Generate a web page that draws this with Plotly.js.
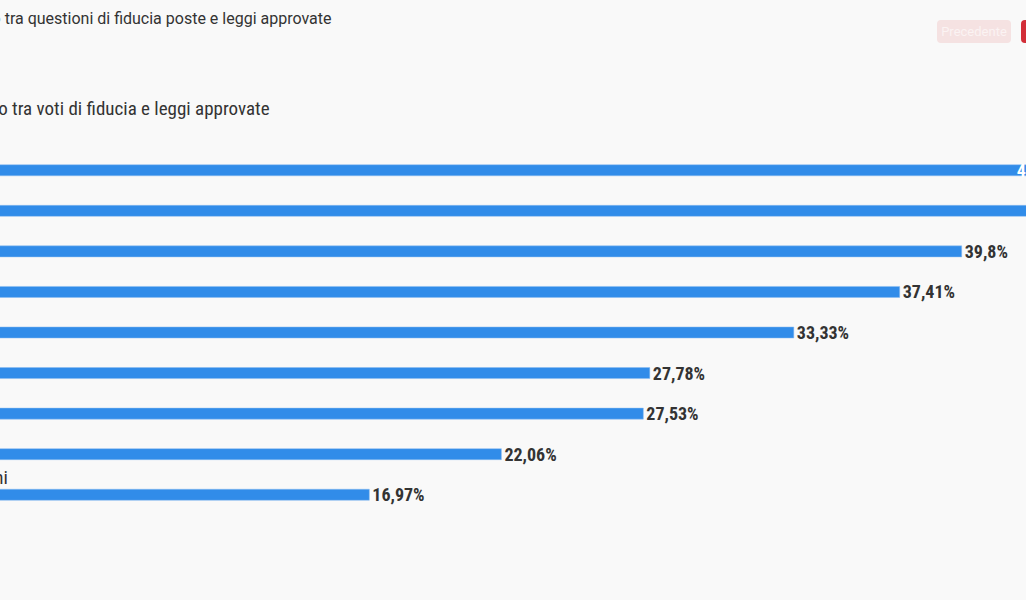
<!DOCTYPE html>
<html>
<head>
<meta charset="utf-8">
<script src="https://cdn.plot.ly/plotly-3.0.1.min.js"></script>
<style>
  html, body { margin: 0; padding: 0; background: #f9f9f9; overflow: hidden; width: 1026px; height: 600px; }
  #chart { position: absolute; left: -150px; top: 0; width: 1270px; height: 600px; z-index: 1; }
  #head { position: absolute; left: -65px; top: 9px; font-family: Roboto, sans-serif; font-size: 16px; color: #333; white-space: nowrap; z-index: 2; }
  .btn { position: absolute; top: 20px; height: 23px; border-radius: 4px; font-family: Roboto, sans-serif; font-size: 13px; line-height: 23px; text-align: center; color: #fff; z-index: 2; }
  #prev { left: 937px; width: 74px; background: #f5e2e2; color: #fbf3f3; }
  #next { left: 1021px; width: 80px; background: #d22e38; }
</style>
</head>
<body>
<div id="chart"></div>
<div id="head">Rapporto tra questioni di fiducia poste e leggi approvate</div>
<div class="btn" id="prev">Precedente</div>
<div class="btn" id="next">Successivo</div>
<script>
const chartTitle = "Rapporto tra voti di fiducia e leggi approvate";
const governi = ["Monti", "Draghi", "Conte II", "Renzi", "Conte I", "Letta", "Meloni", "Prodi II", "Gentiloni"];
const rapporto = [44.05, 42.86, 39.8, 37.41, 33.33, 27.78, 27.53, 22.06, 16.97];
const posizioneEtichetta = ["inside", "outside", "outside", "outside", "outside", "outside", "outside", "outside", "outside"];

const etichette = rapporto.map(v => String(v).replace('.', ',') + '%');
const condensed = "'Roboto Condensed', 'Liberation Sans Narrow', 'DejaVu Sans Condensed', Roboto, sans-serif";

const trace = {
  type: 'bar',
  orientation: 'h',
  y: governi,
  x: rapporto,
  text: etichette,
  textposition: posizioneEtichetta,
  insidetextanchor: 'end',
  constraintext: 'none',
  textfont: { family: condensed, size: 18, color: '#333', weight: 700 },
  insidetextfont: { family: condensed, size: 18, color: '#ffffff', weight: 700 },
  outsidetextfont: { family: condensed, size: 18, color: '#333', weight: 700 },
  marker: { color: '#318ce9', line: { color: '#8cbcf0', width: 0.5 } },
  hoverinfo: 'none',
  cliponaxis: false
};

const annotations = governi.map(g => ({
  xref: 'paper', yref: 'y', x: 0, y: g, xanchor: 'left', yanchor: 'middle',
  yshift: 17, xshift: 10, text: g, showarrow: false,
  font: { family: condensed, size: 19, color: '#333' }
}));

const layout = {
  width: 1270, height: 600,
  paper_bgcolor: '#f9f9f9', plot_bgcolor: '#f9f9f9',
  margin: { l: 79, r: 20, t: 150, b: 85 },
  title: { text: chartTitle, xref: 'paper', x: 0, xanchor: 'left', yref: 'container', y: 1 - 108 / 600, yanchor: 'middle',
           pad: { l: 10 }, font: { family: condensed, size: 19, color: '#333' } },
  xaxis: { range: [0, 45.13], showgrid: false, zeroline: false, showticklabels: false, showline: false, fixedrange: true },
  yaxis: { type: 'category', range: [8.5, -0.5], autorange: false, showgrid: false, zeroline: false, showticklabels: false, showline: false, fixedrange: true },
  bargap: 0.728,
  showlegend: false,
  annotations: annotations
};

Plotly.newPlot('chart', [trace], layout, { displayModeBar: false, staticPlot: true });
</script>
</body>
</html>
